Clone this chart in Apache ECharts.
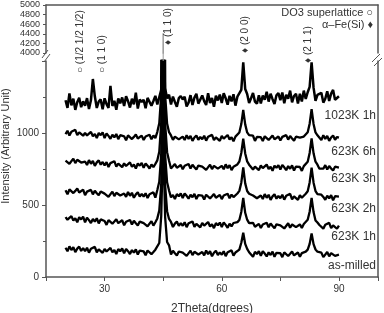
<!DOCTYPE html>
<html><head><meta charset="utf-8">
<script src="https://cdn.jsdelivr.net/npm/echarts@6/dist/echarts.min.js"></script>
<style>html,body{margin:0;padding:0;background:#fff}#c{width:384px;height:313px}</style>
</head><body><div id="c"></div>
<script>
// 2Theta sampling (degrees)
const twoTheta = [20,20.5,21,21.5,22,22.5,23,23.5,24,24.5,
25,25.5,26,26.5,27,27.5,28,28.5,29,29.5,
30,30.5,31,31.5,32,32.5,33,33.5,34,34.5,
35,35.5,36,36.5,37,37.5,38,38.5,39,39.5,
40,40.5,41,41.5,42,42.5,43,43.5,44,44.5,
45,45.5,46,46.5,47,47.5,48,48.5,49,49.5,
50,50.5,51,51.5,52,52.5,53,53.5,54,54.5,
55,55.5,56,56.5,57,57.5,58,58.5,59,59.5,
60,60.5,61,61.5,62,62.5,63,63.5,64,64.5,
65,65.5,66,66.5,67,67.5,68,68.5,69,69.5,
70,70.5,71,71.5,72,72.5,73,73.5,74,74.5,
75,75.5,76,76.5,77,77.5,78,78.5,79,79.5,
80,80.5,81,81.5,82,82.5,83,83.5,84,84.5,
85,85.5,86,86.5,87,87.5,88,88.5,89,89.5,
90];

const asMilled = [203,179,213,187,208,173,197,211,181,200,
179,203,169,196,184,209,172,192,199,168,
195,177,165,202,171,187,159,194,179,198,
164,195,179,159,187,169,192,156,184,177,
178,151,184,187,159,174,190,195,236,423,
968,416,243,220,157,182,165,150,177,184,
169,178,147,159,183,152,175,187,156,162,
174,150,184,158,179,144,168,182,152,171,
155,179,145,172,160,185,148,170,178,190,
238,307,230,195,172,168,140,175,160,179,
148,179,163,143,171,153,176,140,168,161,
165,138,171,174,146,161,177,150,143,170,
141,166,160,176,190,230,303,228,191,176,
167,169,138,150,174,143,166,178,147,153,
155];

const k623_1h = [416,398,386,423,392,408,380,415,400,419,
380,411,395,375,403,385,408,372,400,393,
389,362,395,398,370,385,401,374,367,394,
359,384,371,396,365,390,373,358,385,392,
374,383,352,364,388,357,380,407,461,641,
1267,637,457,403,382,347,371,385,355,374,
356,380,346,373,361,386,349,369,376,345,
375,357,345,382,351,367,339,374,359,378,
347,378,362,342,370,352,375,368,381,396,
452,550,446,398,374,370,376,349,342,369,
340,365,352,377,346,371,354,339,366,373,
359,368,337,349,373,342,365,377,346,352,
365,341,368,380,397,453,550,451,393,378,
361,370,336,363,351,376,339,359,366,335,
357];

const k623_2h = [602,575,608,611,583,598,614,587,580,607,
568,593,580,605,574,599,582,567,594,601,
579,588,557,569,593,562,585,597,566,572,
580,556,590,564,585,550,574,588,558,577,
558,582,548,575,563,588,551,604,661,851,
1513,848,658,601,553,569,541,576,561,580,
549,580,564,544,572,554,577,541,569,562,
565,538,571,574,546,561,577,550,543,570,
541,566,553,578,547,572,555,568,580,598,
655,762,650,597,578,568,566,578,547,553,
566,542,576,550,571,536,560,574,544,563,
547,571,537,564,552,577,540,560,567,536,
568,550,562,578,595,657,759,655,597,576,
563,572,556,536,564,546,569,533,561,554,
558];

const k623_3h = [808,817,786,798,822,791,814,826,795,801,
802,778,812,786,807,772,796,810,780,799,
774,798,764,791,779,804,767,787,794,763,
789,771,759,796,765,781,753,788,773,792,
758,789,773,753,781,763,786,810,870,1070,
1767,1067,867,807,754,769,785,758,751,778,
748,773,760,785,754,779,762,747,774,781,
766,775,744,756,780,749,772,784,753,759,
772,748,782,756,777,742,766,772,782,802,
861,961,858,803,780,772,746,766,773,742,
774,756,744,781,750,766,738,773,758,777,
747,778,762,742,770,752,775,739,767,760,
764,737,770,782,800,861,963,859,801,780,
752,765,752,777,746,771,754,739,766,773,
760];

const k623_6h = [992,1016,982,1009,997,1022,985,1005,1012,981,
1001,983,971,1008,977,993,965,1000,985,1004,
965,996,980,960,988,970,993,957,985,978,
977,950,983,986,958,973,989,962,955,982,
951,976,963,988,957,982,965,1008,1068,1268,
1966,1266,1066,1006,983,952,975,987,956,962,
975,951,985,959,980,945,969,983,953,972,
957,981,947,974,962,987,950,970,977,946,
979,961,949,986,955,971,943,975,985,1004,
1062,1160,1060,1004,985,976,981,945,973,966,
971,944,977,980,952,967,983,956,949,976,
948,973,960,985,954,979,962,947,974,981,
968,977,975,985,1005,1065,1165,1063,1004,984,
980,951,985,959,980,945,969,983,953,972,
968];

const k1023_1h = [1227,1174,1275,1192,1238,1161,1214,1245,1179,1220,
1189,1242,1167,1227,1375,1255,1174,1218,1233,1165,
1241,1201,1175,1327,1188,1223,1162,1239,1206,1247,
1188,1256,1221,1177,1238,1199,1280,1170,1232,1216,
1231,1172,1244,1251,1189,1222,1258,1198,1210,1300,
4410,1310,1240,1266,1198,1253,1215,1182,1242,1257,
1233,1252,1184,1211,1263,1195,1246,1272,1204,1217,
1261,1221,1195,1276,1208,1243,1182,1259,1226,1267,
1208,1276,1241,1197,1258,1219,1269,1190,1252,1240,
1300,1490,1305,1271,1209,1242,1278,1218,1203,1262,
1205,1260,1231,1286,1218,1273,1235,1202,1262,1277,
1228,1281,1206,1266,1239,1294,1213,1257,1272,1204,
1272,1219,1294,1237,1283,1320,1490,1315,1224,1265,
1260,1279,1211,1238,1290,1222,1273,1299,1231,1244,
1255];

const sampleNames = ['as-milled','623K 1h','623K 2h','623K 3h','623K 6h','1023K 1h'];
const xTickLabels = [30, 60, 90];
const yTickLabels = [0, 500, 1000];
const peakPositions = [27.0, 31.5, 45.0, 65.5, 83.0];
const peakLabels = ['\u25CB (1/2 1/2 1/2)', '\u25CB (1 1 0)', '\u2666 (1 1 0)', '\u2666 (2 0 0)', '\u2666 (2 1 1)'];
const legendLines = ['DO3 superlattice \u25CB', '\u03B1\u2013Fe(Si) \u2666'];

const FONT = '"Liberation Sans", Arial, Helvetica, sans-serif';
const AX = '#555';
const TXT = '#333';

function pairs(ys) { return twoTheta.map((x, i) => [x, ys[i]]); }

const spectra = [asMilled, k623_1h, k623_2h, k623_3h, k623_6h, k1023_1h];
const widths = [2.3, 2.3, 2.3, 2.3, 2.3, 2.5];

const chart = echarts.init(document.getElementById('c'), null, {renderer: 'canvas'});

const lineSeries = (data, xi, yi, name, color, width) => ({
  type: 'line', name, xAxisIndex: xi, yAxisIndex: yi, data,
  showSymbol: false, symbol: 'none', clip: true, silent: true,
  lineStyle: {color, width}
});

const series = spectra.map((s, k) => lineSeries(pairs(s), 0, 0, sampleNames[k], '#000', widths[k]));
series.push(lineSeries(pairs(k1023_1h), 1, 2, '1023K 1h (upper)', '#999', 1));

const lowerTop = 61, lowerBottom = 36, upperTop = 5, upperH = 48;

chart.setOption({
  animation: false,
  backgroundColor: '#fff',
  grid: [
    {left: 46, right: 6, top: lowerTop, bottom: lowerBottom, outerBoundsMode: 'none', containLabel: false},
    {left: 46, right: 6, top: upperTop, height: upperH, outerBoundsMode: 'none', containLabel: false}
  ],
  xAxis: [
    {gridIndex: 0, type: 'value', min: 15, max: 100, interval: 15,
      axisLine: {show: true, onZero: false, lineStyle: {color: AX, width: 1.5}},
      axisTick: {show: true, length: 4, lineStyle: {color: AX}},
      axisLabel: {fontSize: 10, color: TXT, fontFamily: FONT, margin: 7,
        formatter: v => xTickLabels.includes(v) ? String(v) : ''},
      splitLine: {show: false},
      name: '2Theta(dgrees)', nameLocation: 'middle', nameGap: 26,
      nameTextStyle: {fontSize: 12, color: TXT, fontFamily: FONT}},
    {gridIndex: 1, type: 'value', min: 15, max: 100, position: 'top',
      axisLine: {show: true, onZero: false, lineStyle: {color: AX, width: 1.5}},
      axisTick: {show: false}, axisLabel: {show: false}, splitLine: {show: false}}
  ],
  yAxis: [
    {gridIndex: 0, type: 'value', min: 0, max: 1500, interval: 500,
      axisLine: {show: true, onZero: false, lineStyle: {color: AX, width: 1.5}},
      axisTick: {show: true, length: 4, lineStyle: {color: AX}},
      minorTick: {show: true, splitNumber: 2, length: 3, lineStyle: {color: AX}},
      axisLabel: {fontSize: 10, color: TXT, fontFamily: FONT, margin: 7,
        formatter: v => yTickLabels.includes(v) ? String(v) : ''},
      splitLine: {show: false}},
    {gridIndex: 0, type: 'value', min: 0, max: 1500, position: 'right',
      axisLine: {show: true, onZero: false, lineStyle: {color: AX, width: 1.5}},
      axisTick: {show: false}, axisLabel: {show: false}, splitLine: {show: false}},
    {gridIndex: 1, type: 'value', min: 4000, max: 5000, interval: 200,
      axisLine: {show: true, onZero: false, lineStyle: {color: AX, width: 1.5}},
      axisTick: {show: true, length: 3, lineStyle: {color: AX}},
      axisLabel: {fontSize: 9, color: TXT, fontFamily: FONT, margin: 6,
        formatter: v => String(v)},
      splitLine: {show: false}},
    {gridIndex: 1, type: 'value', min: 4000, max: 5000, position: 'right',
      axisLine: {show: true, onZero: false, lineStyle: {color: AX, width: 1.5}},
      axisTick: {show: false}, axisLabel: {show: false}, splitLine: {show: false}}
  ],
  series
});

// annotations placed from axis scales
const g = [];
const txt = (x, y, text, size, align, vAlign, rot) => ({
  type: 'text', x, y, rotation: rot || 0, silent: true, z: 100,
  style: {text, fontSize: size, fontFamily: FONT, fill: TXT, align, verticalAlign: vAlign}
});
g.push(txt(6, 146, 'Intensity (Arbitrary Unit)', 11, 'center', 'middle', Math.PI / 2));

// the tall (110) reflection of 1023K 1h continues across the axis break
const pTop = chart.convertToPixel({xAxisIndex: 1, yAxisIndex: 2}, [45.0, 4000]);
const pBot = chart.convertToPixel({xAxisIndex: 0, yAxisIndex: 0}, [45.0, 1500]);
g.push({type: 'line', silent: true, z: 50,
  shape: {x1: pTop[0], y1: pTop[1], x2: pBot[0], y2: pBot[1]},
  style: {stroke: '#999', lineWidth: 1}});

// peak labels (rotated, reading upward)
const labelBottoms = [73, 73, 45, 53, 63];
const labelDx = [-13, -8, 5.5, 2.5, -3.5];
peakPositions.forEach((p, i) => {
  const px = chart.convertToPixel({xAxisIndex: 0}, p);
  g.push(txt(px + labelDx[i], labelBottoms[i], peakLabels[i], 10, 'left', 'middle', Math.PI / 2));
});

// legend text
g.push(txt(373, 13, legendLines[0], 11, 'right', 'middle'));
g.push(txt(373, 25, legendLines[1], 11, 'right', 'middle'));

// sample labels (top to bottom)
const sampleLabelY = [266, 237, 209, 179, 152, 116];
sampleNames.forEach((n, i) => g.push(txt(376, sampleLabelY[i], n, 12, 'right', 'middle')));

// axis break marks
const brk = (x1, y1, x2, y2) => ({type: 'line', silent: true, z: 100,
  shape: {x1, y1, x2, y2}, style: {stroke: AX, lineWidth: 1}});
g.push(brk(42, 58, 48, 50), brk(44, 62, 50, 54));
g.push(brk(372, 62, 380, 54), brk(374, 66, 382, 58));

chart.setOption({graphic: g});
</script>
</body></html>
